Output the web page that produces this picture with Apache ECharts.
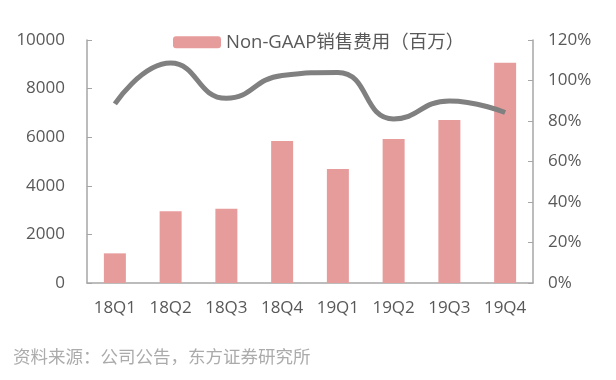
<!DOCTYPE html>
<html>
<head>
<meta charset="utf-8">
<script src="https://cdn.jsdelivr.net/npm/echarts@6/dist/echarts.min.js"></script>
<style>
html,body{margin:0;padding:0;background:#fff;}
#c{width:616px;height:380px;}
</style>
</head>
<body>
<div id="c"></div>
<script>
const categories = ['18Q1','18Q2','18Q3','18Q4','19Q1','19Q2','19Q3','19Q4'];
const salesExpense = [1220, 2950, 3060, 5840, 4690, 5925, 6710, 9060];
const ratioPct = [88.4, 108.6, 91.2, 102.5, 104.0, 81.0, 89.9, 84.2];
const leftTicks = [0, 2000, 4000, 6000, 8000, 10000];
const rightTicks = [0, 20, 40, 60, 80, 100, 120];

const FONT = "'Open Sans','Noto Sans CJK SC',sans-serif";
const chart = echarts.init(document.getElementById('c'), null, {renderer:'canvas'});
chart.setOption({
  animation:false,
  backgroundColor:'#fff',
  textStyle:{fontFamily:FONT},
  graphic:[{
    type:'text', left:13, top:348,
    style:{text:'资料来源：公司公告，东方证券研究所', fill:'#ababab', font:"17.5px 'Noto Sans CJK SC',sans-serif"}
  }],
  legend:{
    data:['Non-GAAP销售费用（百万）'],
    top:28, left:168,
    itemWidth:48, itemHeight:12, itemGap:5,
    textStyle:{fontSize:18.5, color:'#595959', fontFamily:FONT}
  },
  grid:{left:87, right:83, top:40, bottom:97, containLabel:false},
  xAxis:{
    type:'category', data:categories,
    axisLine:{lineStyle:{color:'#a6a6a6', width:1.5}},
    axisTick:{inside:true, length:6, lineStyle:{color:'#a6a6a6'}},
    axisLabel:{fontSize:17, color:'#595959', margin:17, fontFamily:FONT}
  },
  yAxis:[{
    type:'value', min:leftTicks[0], max:leftTicks[leftTicks.length-1], interval:2000,
    axisLine:{show:true, lineStyle:{color:'#a6a6a6', width:1.5}},
    axisTick:{show:true, inside:true, length:5, lineStyle:{color:'#a6a6a6'}},
    splitLine:{show:false},
    axisLabel:{fontSize:17, color:'#595959', margin:22, fontFamily:FONT, formatter:v=>String(v)}
  },{
    type:'value', min:rightTicks[0], max:rightTicks[rightTicks.length-1], interval:20,
    axisLine:{show:true, lineStyle:{color:'#a6a6a6', width:1.5}},
    axisTick:{show:true, inside:true, length:5, lineStyle:{color:'#a6a6a6'}},
    splitLine:{show:false},
    axisLabel:{fontSize:17, color:'#595959', margin:15, fontFamily:FONT, formatter:v=>v+'%'}
  }],
  series:[{
    name:'Non-GAAP销售费用（百万）', type:'bar', data:salesExpense,
    barWidth:22, itemStyle:{color:'#e79c9c'}
  },{
    name:'ratio', type:'line', yAxisIndex:1, data:ratioPct,
    smooth:0.5, showSymbol:false, symbol:'none',
    lineStyle:{color:'#808080', width:5}
  }]
});
</script>
</body>
</html>
